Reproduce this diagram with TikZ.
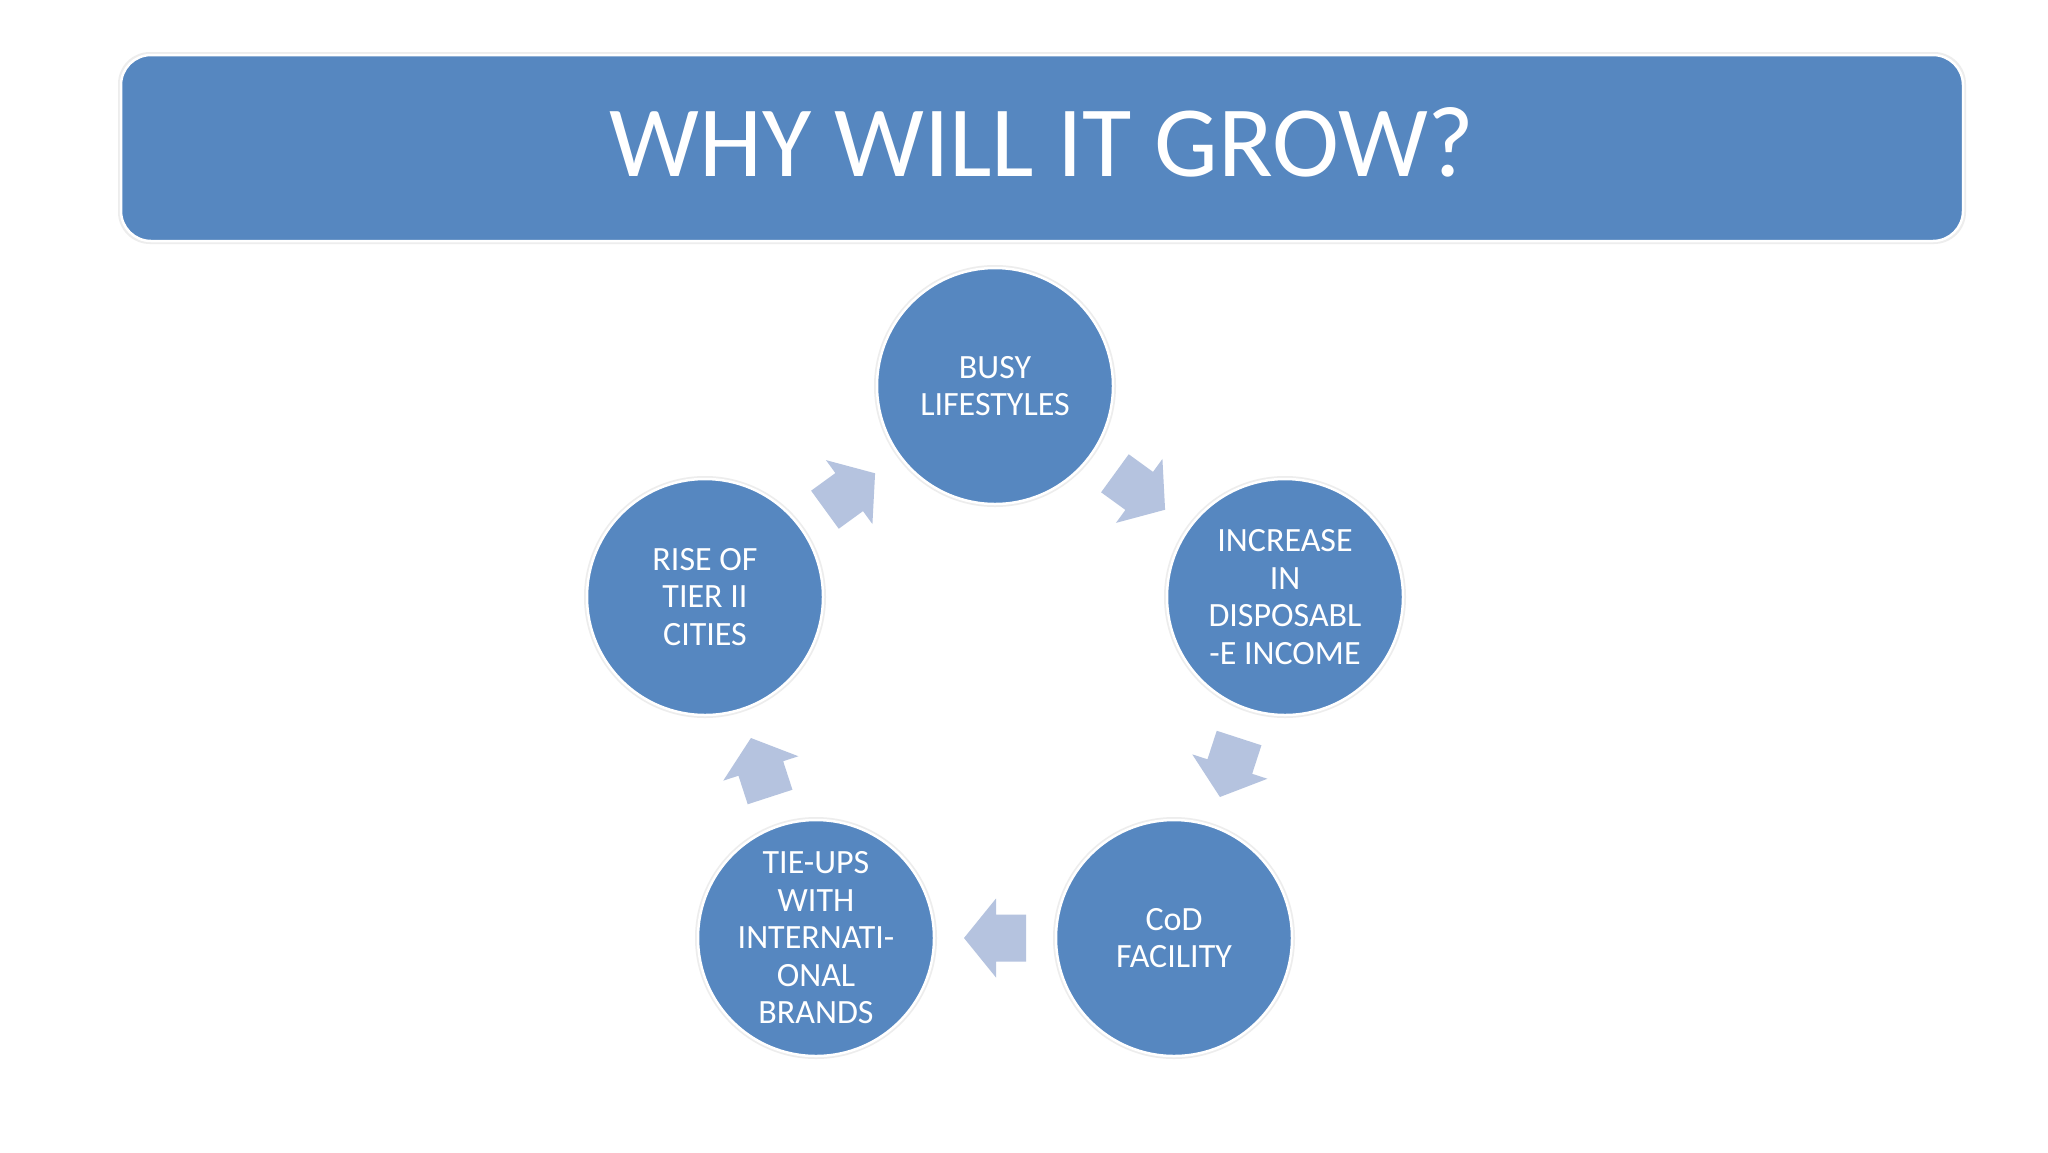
\documentclass[tikz,border=0pt]{standalone}
\usepackage{fontspec}
\setmainfont{Carlito}
\usetikzlibrary{calc}
\definecolor{boxblue}{RGB}{86,135,192}
\definecolor{arrowblue}{RGB}{181,195,223}
\begin{document}
\begin{tikzpicture}[x=1pt,y=-1pt,
  titlebox/.style={rectangle, rounded corners=30pt, fill=boxblue, draw=white, line width=2.5pt,
    minimum width=1842pt, minimum height=186pt, inner sep=0pt, text=white, text depth=12pt,
    font=\fontsize{101}{120}\selectfont},
  titlehalo/.style={rectangle, rounded corners=32pt, fill=black!7, minimum width=1848pt, minimum height=192pt, inner sep=0pt},
  stage/.style={circle, fill=boxblue, draw=white, line width=2.5pt, minimum size=236pt, inner sep=0pt,
    text=white, font=\fontsize{34}{37.5}\selectfont, align=center},
  halo/.style={circle, fill=black!7, minimum size=242pt, inner sep=0pt},
  cyclearrow/.pic={
    \fill[arrowblue] (-31,-23.5) -- (-1,-23.5) -- (-1,-39.5) -- (31,0) -- (-1,39.5) -- (-1,23.5) -- (-31,23.5) -- cycle;
  }]
\path[use as bounding box, fill=white] (0,0) rectangle (2048,1152);
% title
\node[titlehalo] (titleh) at (1042,148) {};
\node[titlebox] (title) at (1042,148) {WHY WILL IT GROW?};
% halos
\node[halo] (busyh) at (995,386) {};
\node[halo] (inch) at (1285,597) {};
\node[halo] (codh) at (1174,938) {};
\node[halo] (tieh) at (816,938) {};
\node[halo] (riseh) at (705,597) {};
% stages
\node[stage] (busy) at (busyh) {BUSY\\LIFESTYLES};
\node[stage] (inc) at (inch) {INCREASE\\IN\\DISPOSABL\\-E INCOME};
\node[stage] (cod) at (codh) {CoD\\FACILITY};
\node[stage] (tie) at (tieh) {TIE-UPS\\WITH\\INTERNATI-\\ONAL\\BRANDS};
\node[stage] (rise) at (riseh) {RISE OF\\TIER II\\CITIES};
% cycle arrows
\pic[rotate=-36] (a1) at ($(busy)!0.5!(inc)$) {cyclearrow};
\pic[rotate=-108] (a2) at ($(inc)!0.5!(cod)$) {cyclearrow};
\pic[rotate=180] (a3) at ($(cod)!0.5!(tie)$) {cyclearrow};
\pic[rotate=108] (a4) at ($(tie)!0.5!(rise)$) {cyclearrow};
\pic[rotate=36] (a5) at ($(rise)!0.5!(busy)$) {cyclearrow};
\end{tikzpicture}
\end{document}
